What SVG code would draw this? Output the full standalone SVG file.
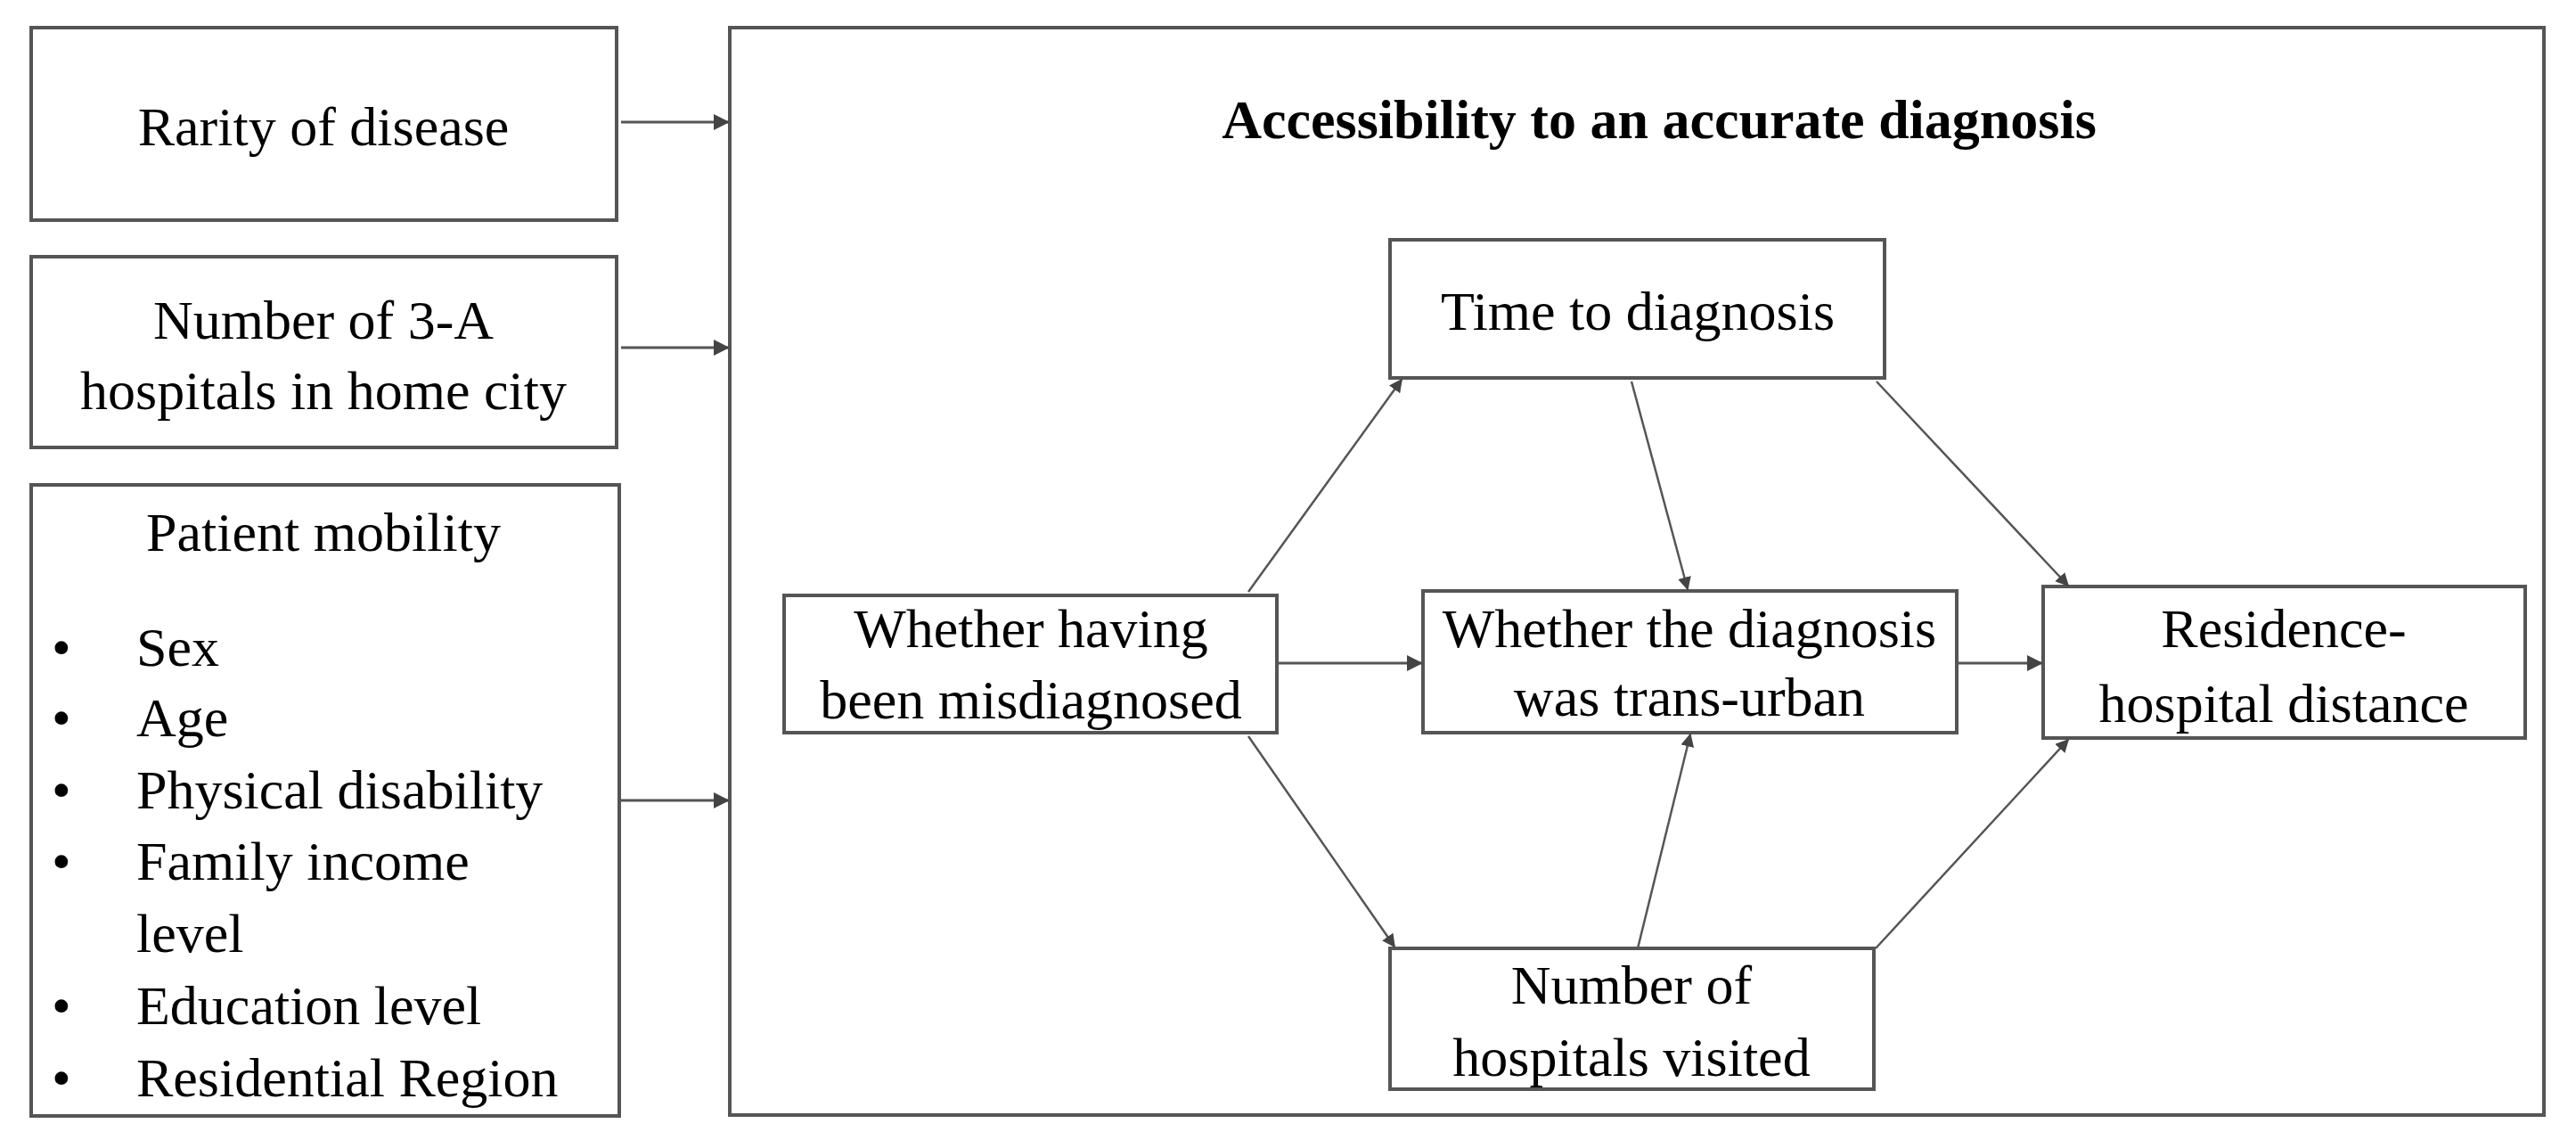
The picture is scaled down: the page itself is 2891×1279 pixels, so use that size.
<svg xmlns="http://www.w3.org/2000/svg" width="2891" height="1279" viewBox="0 0 2891 1279">
<style>
rect{fill:#fff;stroke:#555;stroke-width:4}
text{font-family:"Liberation Serif","Times New Roman",serif;font-size:62px;fill:#000}
.c{text-anchor:middle}
.e line{stroke:#555;stroke-width:2.5;marker-end:url(#a)}
</style>
<defs><marker id="a" viewBox="0 0 10 10" refX="9" refY="5" markerWidth="8" markerHeight="8" markerUnits="userSpaceOnUse" orient="auto"><path d="M0,1 L10,5 L0,9 z" fill="#444"/></marker>
<marker id="b" viewBox="0 0 10 10" refX="9" refY="5" markerWidth="6" markerHeight="6" orient="auto"><path d="M0,0 L10,5 L0,10 z" fill="#444"/></marker></defs>
<style>.e line{marker-end:url(#b)}</style>
<g id="outer"><rect x="819" y="31" width="2036" height="1220"/><text class="c" x="1862" y="155" font-weight="bold">Accessibility to an accurate diagnosis</text></g>
<g id="rarity"><rect x="35" y="31" width="657" height="216"/><text class="c" x="363" y="163">Rarity of disease</text></g>
<g id="num3a"><rect x="35" y="288" width="657" height="214"/><text class="c" x="363" y="380">Number of 3-A</text><text class="c" x="363" y="459">hospitals in home city</text></g>
<g id="mobility"><rect x="35" y="544" width="660" height="708"/><text class="c" x="363" y="618">Patient mobility</text>
<text x="58" y="747">•</text><text x="153" y="747">Sex</text>
<text x="58" y="826">•</text><text x="153" y="826">Age</text>
<text x="58" y="907">•</text><text x="153" y="907">Physical disability</text>
<text x="58" y="987">•</text><text x="153" y="987">Family income</text>
<text x="153" y="1068">level</text>
<text x="58" y="1149">•</text><text x="153" y="1149">Education level</text>
<text x="58" y="1230">•</text><text x="153" y="1230">Residential Region</text></g>
<g id="time"><rect x="1560" y="269" width="555" height="155"/><text class="c" x="1838" y="370">Time to diagnosis</text></g>
<g id="misdiag"><rect x="880" y="668" width="553" height="154"/><text class="c" x="1157" y="726">Whether having</text><text class="c" x="1157" y="806">been misdiagnosed</text></g>
<g id="transurban"><rect x="1597" y="663" width="599" height="159"/><text class="c" x="1896" y="726">Whether the diagnosis</text><text class="c" x="1896" y="803">was trans-urban</text></g>
<g id="distance"><rect x="2293" y="658" width="541" height="170"/><text class="c" x="2563" y="726">Residence-</text><text class="c" x="2563" y="810">hospital distance</text></g>
<g id="visited"><rect x="1560" y="1064" width="543" height="158"/><text class="c" x="1831" y="1126">Number of</text><text class="c" x="1831" y="1207">hospitals visited</text></g>
<g id="connectors" class="e">
<line x1="697" y1="137" x2="817" y2="137" style="stroke-width:3"/>
<line x1="697" y1="390" x2="817" y2="390" style="stroke-width:3"/>
<line x1="697" y1="898" x2="817" y2="898" style="stroke-width:3"/>
<line x1="1401" y1="664" x2="1573" y2="426"/>
<line x1="1401" y1="826" x2="1565" y2="1062"/>
<line x1="1433" y1="744" x2="1595" y2="744" style="stroke-width:3"/>
<line x1="2196" y1="744" x2="2291" y2="744" style="stroke-width:3"/>
<line x1="1831" y1="428" x2="1894" y2="661"/>
<line x1="2106" y1="428" x2="2321" y2="657"/>
<line x1="1838" y1="1064" x2="1897" y2="824"/>
<line x1="2105" y1="1064" x2="2321" y2="830"/>
</g>
</svg>
